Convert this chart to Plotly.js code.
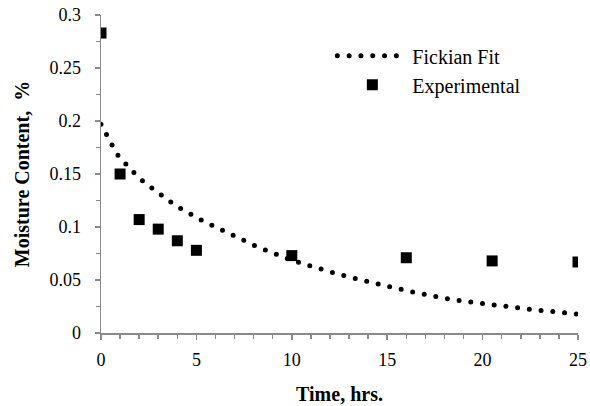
<!DOCTYPE html>
<html>
<head>
<meta charset="utf-8">
<script src="https://cdn.plot.ly/plotly-3.0.1.min.js"></script>
<style>
  html, body { margin: 0; padding: 0; background: #fff; }
  #chart { width: 590px; height: 406px; }
  /* round caps turn the zero-length dashes of the fit curve into dots */
  .js-line { stroke-linecap: round; }
</style>
</head>
<body>
<div id="chart"></div>
<script>
// Experimental desorption measurements
const expTime = [0, 1, 2, 3, 4, 5, 10, 16, 20.5, 25];
const expMoisture = [0.283, 0.150, 0.107, 0.098, 0.087, 0.078, 0.073, 0.071, 0.068, 0.067];

// Fickian fit curve
const fitTime = [0, 0.30, 0.59, 0.91, 1.29, 1.74, 2.21, 2.70, 3.21, 3.70, 4.22, 4.78, 5.34, 5.90,
  6.47, 7.05, 7.63, 8.18, 8.76, 9.34, 9.95, 10.54, 11.13, 11.73, 12.34, 12.95, 13.56, 14.17,
  14.78, 15.39, 16.0, 16.6, 17.2, 17.8, 18.4, 19.1, 19.7, 20.3, 21.0, 21.6, 22.2, 22.8, 23.5,
  24.1, 24.7, 25];
const fitMoisture = [0.197, 0.188, 0.177, 0.167, 0.159, 0.151, 0.143, 0.136, 0.129, 0.123, 0.117,
  0.111, 0.1057, 0.101, 0.096, 0.0912, 0.0862, 0.0814, 0.0774, 0.073, 0.0689, 0.0657, 0.0623,
  0.0588, 0.056, 0.0531, 0.0503, 0.0476, 0.0448, 0.0426, 0.0400, 0.0376, 0.0353, 0.0333, 0.0316,
  0.0299, 0.0284, 0.0269, 0.0255, 0.0241, 0.0228, 0.0216, 0.0205, 0.0194, 0.0183, 0.0178];

const xRange = [0, 25];
const yRange = [0, 0.3];

const serif = '"Liberation Serif", "Times New Roman", Times, serif';
const axisGray = '#8a8a8a';

const traces = [
  {
    x: fitTime, y: fitMoisture, name: 'Fickian Fit', type: 'scatter', mode: 'lines',
    line: { color: '#000', width: 5, dash: '0px,11.8px' }
  },
  {
    x: expTime, y: expMoisture, name: 'Experimental', type: 'scatter', mode: 'markers',
    marker: { symbol: 'square', size: 11, color: '#000' }
  }
];

const baseAxis = {
  showgrid: false, zeroline: false, linecolor: axisGray, linewidth: 1.5,
  tickcolor: axisGray, tickwidth: 1.5, fixedrange: true
};

const layout = {
  width: 590, height: 406,
  margin: { l: 101, r: 12, t: 15, b: 73 },
  paper_bgcolor: '#fff', plot_bgcolor: '#fff',
  font: { family: serif, color: '#000', size: 18 },
  showlegend: true,
  legend: {
    x: 0.485, y: 0.933, xanchor: 'left', yanchor: 'top',
    bgcolor: 'rgba(0,0,0,0)', itemwidth: 70, tracegroupgap: 0,
    font: { family: serif, size: 20, color: '#000' }
  },
  xaxis: Object.assign({}, baseAxis, {
    range: xRange, dtick: 5, tick0: 0, showline: true,
    ticks: 'outside', ticklen: 5, ticklabelstandoff: 5,
    minor: { dtick: 1, ticks: 'outside', ticklen: 4, tickcolor: axisGray, tickwidth: 1.5 },
    tickfont: { family: serif, size: 18 },
    title: { text: '<b>Time, hrs.</b>', font: { family: serif, size: 20 }, standoff: 18 }
  }),
  // inward half of the crossing major ticks on the bottom edge
  xaxis2: Object.assign({}, baseAxis, {
    range: xRange, overlaying: 'x', anchor: 'y', side: 'bottom', dtick: 5, tick0: 0,
    showline: false, ticks: 'inside', ticklen: 5, showticklabels: false
  }),
  // top edge with inward ticks
  xaxis3: Object.assign({}, baseAxis, {
    range: xRange, overlaying: 'x', anchor: 'y', side: 'top', dtick: 1, tick0: 0,
    showline: true, ticks: 'inside', ticklen: 5, showticklabels: false
  }),
  yaxis: Object.assign({}, baseAxis, {
    range: yRange, dtick: 0.05, tick0: 0, showline: true,
    ticks: 'outside', ticklen: 5, ticklabelstandoff: 10,
    minor: { dtick: 0.025, ticks: 'outside', ticklen: 4, tickcolor: axisGray, tickwidth: 1.5 },
    tickfont: { family: serif, size: 18 },
    title: { text: '<b>Moisture Content,  %</b>', font: { family: serif, size: 20 }, standoff: 14 }
  }),
  yaxis2: Object.assign({}, baseAxis, {
    range: yRange, overlaying: 'y', anchor: 'x', side: 'left', dtick: 0.05, tick0: 0,
    showline: false, ticks: 'inside', ticklen: 5, showticklabels: false
  }),
  // right edge with inward ticks
  yaxis3: Object.assign({}, baseAxis, {
    range: yRange, overlaying: 'y', anchor: 'x', side: 'right', dtick: 0.025, tick0: 0,
    showline: true, ticks: 'inside', ticklen: 5, showticklabels: false
  })
};

Plotly.newPlot('chart', traces, layout, { displayModeBar: false, staticPlot: true });
</script>
</body>
</html>
